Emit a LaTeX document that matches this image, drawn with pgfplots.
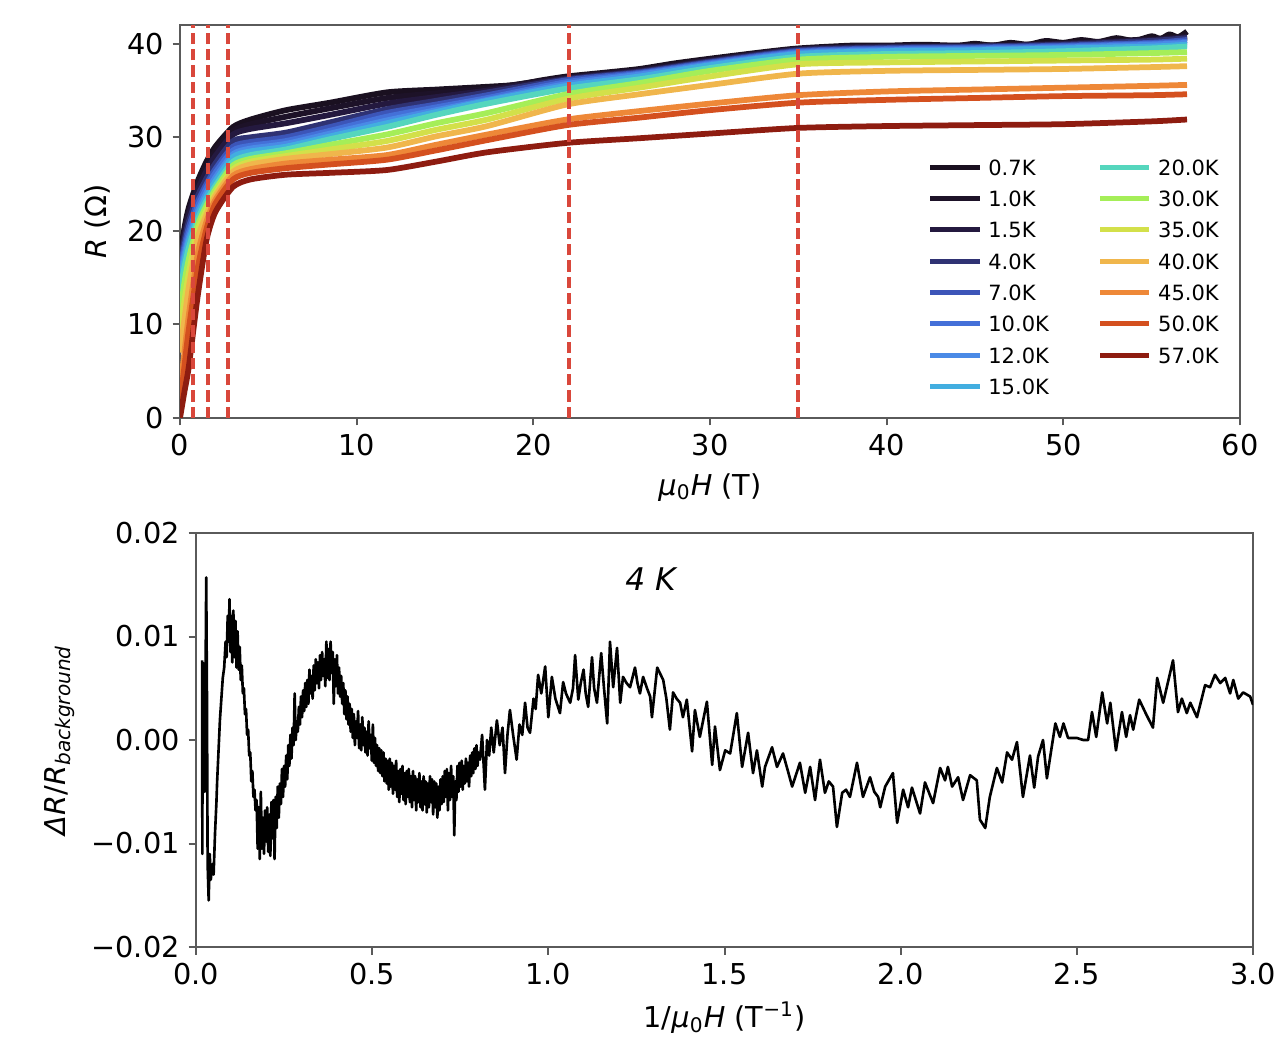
\documentclass[border=0pt]{standalone}
\usepackage{fontspec}
\setmainfont{DejaVu Sans}
\usepackage{pgfplots}
\pgfplotsset{compat=1.18}
\usepackage{pgfplotstable}
\definecolor{c07}{RGB}{26,16,32}
\definecolor{c10}{RGB}{29,18,40}
\definecolor{c15}{RGB}{36,25,63}
\definecolor{c40}{RGB}{47,50,115}
\definecolor{c70}{RGB}{60,85,184}
\definecolor{c100}{RGB}{68,112,216}
\definecolor{c120}{RGB}{74,138,230}
\definecolor{c150}{RGB}{66,174,224}
\definecolor{c200}{RGB}{85,214,189}
\definecolor{c300}{RGB}{165,238,88}
\definecolor{c350}{RGB}{211,224,74}
\definecolor{c400}{RGB}{240,182,76}
\definecolor{c450}{RGB}{238,136,56}
\definecolor{c500}{RGB}{212,80,31}
\definecolor{c570}{RGB}{142,28,16}
\definecolor{vred}{RGB}{217,71,59}
\definecolor{axgray}{RGB}{90,90,90}

\pgfplotstableread{
H    T07  T10  T15  T40  T70  T100 T120 T150 T200 T300 T350 T400 T450 T500 T570
0    17.2 17.0 16.8 16.5 16.0 15.5 15.0 14.5 13.5 11.0 9.0  7.0  3.0  1.5  0.0
0.25 20.3 20.0 19.6 19.0 18.4 17.9 17.4 16.9 16.1 14.5 12.5 10.5 7.0  5.5  2.8
0.5  22.5 22.1 21.7 21.0 20.4 19.8 19.3 18.9 18.2 17.0 15.5 14.0 11.0 9.5  5.5
1    25.3 24.9 24.4 23.7 23.1 22.6 22.1 21.7 21.2 20.6 20.0 19.2 17.5 16.0 13.0
1.5  27.4 26.9 26.4 25.6 25.0 24.6 24.1 23.7 23.2 22.7 22.2 21.7 21.0 20.2 19.0
2    29.0 28.5 28.0 27.2 26.6 26.2 25.7 25.3 24.8 24.4 24.0 23.7 23.3 22.9 22.0
3    31.1 30.7 30.3 29.6 29.0 28.6 28.2 27.9 27.4 27.0 26.6 26.3 25.9 25.5 24.7
4    31.9 31.4 30.9 30.0 29.5 29.1 28.8 28.5 28.1 27.7 27.4 27.1 26.6 26.2 25.5
6    32.9 32.2 31.5 30.5 30.0 29.6 29.3 29.0 28.7 28.3 28.0 27.7 27.2 26.7 26.0
8.5  33.7 33.1 32.4 31.6 31.1 30.7 30.4 30.1 29.8 29.2 28.7 28.2 27.6 27.1 26.2
11.7 34.8 34.2 33.6 33.0 32.6 32.2 31.8 31.5 31.1 30.3 29.6 28.9 28.1 27.6 26.5
14.5 35.1 34.7 34.3 33.9 33.5 33.2 32.9 32.7 32.4 31.5 30.8 30.1 29.2 28.6 27.4
17.4 35.4 35.2 35.0 34.8 34.5 34.2 34.0 33.9 33.6 32.6 31.9 31.2 30.3 29.7 28.4
21.9 36.5 36.4 36.3 36.2 36.1 35.9 35.7 35.5 35.2 34.6 34.1 33.5 31.9 31.3 29.4
26   37.3 37.2 37.1 37.0 36.9 36.8 36.7 36.5 36.2 35.8 35.3 34.6 32.8 32.1 29.9
30   38.4 38.3 38.2 38.1 38.0 37.9 37.8 37.7 37.4 37.1 36.5 35.6 33.6 32.9 30.4
35   39.5 39.4 39.4 39.3 39.2 39.1 39.0 38.9 38.6 38.3 37.8 36.8 34.5 33.7 31.0
40   39.8 39.7 39.7 39.6 39.5 39.4 39.3 39.2 38.9 38.6 38.0 37.1 34.9 34.0 31.2
45   39.8 39.8 39.7 39.7 39.6 39.5 39.4 39.3 39.0 38.7 38.1 37.2 35.1 34.2 31.3
50   40.1 40.0 40.0 39.9 39.8 39.7 39.6 39.5 39.2 38.8 38.2 37.3 35.3 34.4 31.4
55   40.6 40.5 40.4 40.3 40.1 40.0 39.9 39.7 39.5 39.0 38.3 37.5 35.5 34.5 31.7
57   41.0 40.8 40.7 40.6 40.4 40.2 40.1 39.9 39.7 39.1 38.4 37.6 35.6 34.6 31.9
}\rtable

\pgfplotsset{
  myaxis/.style={
    scale only axis,
    anchor=south west,
    axis line style={axgray, line width=0.8pt},
    every tick/.style={axgray, line width=0.8pt},
    tick align=outside,
    tick pos=left,
    major tick length=3pt,
    tick label style={font=\fontsize{11.5}{13}\selectfont, black},
    label style={font=\fontsize{11.5}{13}\selectfont},
    /pgf/number format/assume math mode=true,
    scaled ticks=false,
    clip=true,
  },
  rline/.style={line width=2.3pt, line join=round, smooth, tension=0.4, forget plot},
}

\begin{document}
\begin{tikzpicture}
\path[use as bounding box] (0,0) rectangle (510.4pt,415.2pt);

\begin{axis}[myaxis,
  at={(72pt,248pt)}, width=424pt, height=157.2pt,
  xmin=0, xmax=60, ymin=0, ymax=42,
  xtick={0,10,20,30,40,50,60}, xticklabels={0,10,20,30,40,50,60},
  ytick={0,10,20,30,40}, yticklabels={0,10,20,30,40},
  xlabel={\textit{μ}\textsubscript{0}\textit{H} (T)},
  ylabel={\textit{R} (Ω)},
  legend style={at={(axis description cs:0.698,0.675)}, anchor=north west,
    draw=none, fill=none, font=\fontsize{8.4}{9}\selectfont,
    nodes={inner sep=0.5pt, text depth=0pt},
    row sep=5.3pt,
    /tikz/every even column/.append style={column sep=19pt}},
  legend columns=2,
  legend cell align=left,
  legend image code/.code={\draw[#1, line width=2pt] (0pt,0pt) -- (19.7pt,0pt); \path (22.5pt,0pt);},
]
\addplot[rline, c07] coordinates {(0,17.2)(0.25,20.3)(0.5,22.5)(1,25.3)(1.5,27.4)(2,29.0)(3,31.1)(4,31.9)(6,32.9)(8.5,33.7)(11.7,34.8)(14.5,35.1)(17.4,35.4)(19,35.6)(20.5,36.1)(21.9,36.5)(24,36.9)(26,37.3)(28,37.9)(30,38.4)(33,39.1)(35,39.5)(38,39.8)(40,39.8)(42,39.9)(44,39.8)(45,40.0)(46,39.8)(47,40.1)(48,39.9)(49,40.3)(50,40.1)(51,40.4)(52,40.2)(53,40.6)(54,40.3)(55,40.8)(55.5,40.5)(56,41.0)(56.5,40.7)(57,41.3)};
\addplot[rline, c10] table[x=H, y=T10] {\rtable};
\addplot[rline, c15] table[x=H, y=T15] {\rtable};
\addplot[rline, c40] table[x=H, y=T40] {\rtable};
\addplot[rline, c70] table[x=H, y=T70] {\rtable};
\addplot[rline, c100] table[x=H, y=T100] {\rtable};
\addplot[rline, c120] table[x=H, y=T120] {\rtable};
\addplot[rline, c150] table[x=H, y=T150] {\rtable};
\addplot[rline, c200] table[x=H, y=T200] {\rtable};
\addplot[rline, c300] table[x=H, y=T300] {\rtable};
\addplot[rline, c350] table[x=H, y=T350] {\rtable};
\addplot[rline, c400] table[x=H, y=T400] {\rtable};
\addplot[rline, c450] table[x=H, y=T450] {\rtable};
\addplot[rline, c500] table[x=H, y=T500] {\rtable};
\addplot[rline, c570] table[x=H, y=T570] {\rtable};

\addplot[vred, line width=1.6pt, dash pattern=on 4.5pt off 2pt, forget plot] coordinates {(0.75,0)(0.75,42)};
\addplot[vred, line width=1.6pt, dash pattern=on 4.5pt off 2pt, forget plot] coordinates {(1.6,0)(1.6,42)};
\addplot[vred, line width=1.6pt, dash pattern=on 4.5pt off 2pt, forget plot] coordinates {(2.7,0)(2.7,42)};
\addplot[vred, line width=1.6pt, dash pattern=on 4.5pt off 2pt, forget plot] coordinates {(22,0)(22,42)};
\addplot[vred, line width=1.6pt, dash pattern=on 4.5pt off 2pt, forget plot] coordinates {(35,0)(35,42)};

\addlegendimage{c07}\addlegendentry{0.7K}
\addlegendimage{c200}\addlegendentry{20.0K}
\addlegendimage{c10}\addlegendentry{1.0K}
\addlegendimage{c300}\addlegendentry{30.0K}
\addlegendimage{c15}\addlegendentry{1.5K}
\addlegendimage{c350}\addlegendentry{35.0K}
\addlegendimage{c40}\addlegendentry{4.0K}
\addlegendimage{c400}\addlegendentry{40.0K}
\addlegendimage{c70}\addlegendentry{7.0K}
\addlegendimage{c450}\addlegendentry{45.0K}
\addlegendimage{c100}\addlegendentry{10.0K}
\addlegendimage{c500}\addlegendentry{50.0K}
\addlegendimage{c120}\addlegendentry{12.0K}
\addlegendimage{c570}\addlegendentry{57.0K}
\addlegendimage{c150}\addlegendentry{15.0K}
\end{axis}

\begin{axis}[myaxis,
  at={(78.4pt,36.4pt)}, width=422.8pt, height=165.6pt,
  xmin=0, xmax=3, ymin=-0.02, ymax=0.02,
  xtick={0,0.5,1,1.5,2,2.5,3}, xticklabels={0.0,0.5,1.0,1.5,2.0,2.5,3.0},
  ytick={-0.02,-0.01,0,0.01,0.02}, yticklabels={−0.02,−0.01,0.00,0.01,0.02},
  xlabel={1/\textit{μ}\textsubscript{0}\textit{H} (T\textsuperscript{−1})},
  ylabel={\textit{ΔR}/\textit{R}\textsubscript{\textit{background}}},
]
\addplot[black, line width=1.05pt, line join=round] coordinates {
(0.0175,0.0077)(0.0180,-0.0110)(0.0190,0.0075)(0.0220,0.0040)(0.0250,-0.0050)(0.0290,0.0157)(0.0310,0.0050)(0.0330,-0.0120)(0.0360,-0.0155)(0.0390,-0.0110)(0.0420,-0.0135)(0.0460,-0.0120)(0.0500,-0.0130)(0.0540,-0.0090)(0.0580,-0.0060)(0.0600,-0.0040)
(0.064,-0.001)(0.068,0.002)(0.072,0.004)(0.076,0.006)(0.08,0.007)(0.084,0.0095)(0.087,0.008)(0.09,0.012)(0.093,0.0095)(0.095,0.0136)(0.098,0.0085)(0.1,0.012)(0.103,0.0075)(0.106,0.0125)(0.109,0.008)(0.112,0.0115)(0.115,0.007)(0.118,0.0105)(0.121,0.0068)(0.124,0.009)(0.127,0.0058)(0.13,0.0072)(0.133,0.0045)(0.136,0.005)(0.139,0.0025)(0.142,0.003)(0.145,0.0005)(0.148,0.001)(0.151,-0.0015)(0.154,-0.0012)(0.157,-0.004)(0.16,-0.003)(0.163,-0.0055)(0.166,-0.0048)(0.169,-0.0068)(0.172,-0.0058)(0.175,-0.0105)(0.178,-0.0065)(0.181,-0.0115)(0.184,-0.005)(0.187,-0.0105)(0.19,-0.0075)(0.193,-0.011)(0.196,-0.0068)(0.199,-0.0098)(0.202,-0.0065)(0.205,-0.0108)(0.208,-0.0072)(0.211,-0.0112)(0.214,-0.006)(0.217,-0.0095)(0.22,-0.0058)(0.223,-0.0115)(0.226,-0.0055)(0.229,-0.0085)(0.232,-0.0045)(0.235,-0.0075)(0.238,-0.0042)(0.241,-0.0062)(0.244,-0.0028)(0.247,-0.0055)(0.25,-0.0025)(0.253,-0.0045)(0.256,-0.0015)(0.259,-0.0038)(0.262,-0.0005)(0.265,-0.0025)(0.268,0.0005)(0.271,-0.0018)(0.274,0.0012)(0.277,-0.0005)(0.28,0.0045)(0.283,0.0)(0.286,0.0018)(0.289,0.0008)(0.292,0.0032)(0.295,0.0015)(0.298,0.0042)(0.301,0.0022)(0.304,0.0048)(0.307,0.0028)(0.31,0.0055)(0.313,0.0032)(0.316,0.0058)(0.319,0.0035)(0.322,0.0068)(0.325,0.0045)(0.328,0.0062)(0.331,0.004)(0.334,0.0072)(0.337,0.0048)(0.34,0.0078)(0.343,0.0055)(0.346,0.0075)(0.349,0.005)(0.352,0.0082)(0.355,0.0058)(0.358,0.0085)(0.361,0.0062)(0.364,0.0078)(0.367,0.0052)(0.37,0.0095)(0.373,0.006)(0.376,0.0088)(0.379,0.0058)(0.382,0.0095)(0.385,0.0065)(0.388,0.0085)(0.391,0.0035)(0.394,0.0078)(0.397,0.0052)(0.4,0.0082)(0.403,0.0045)(0.406,0.007)(0.409,0.0042)(0.412,0.0062)(0.415,0.0035)(0.418,0.0055)(0.421,0.0025)(0.424,0.0048)(0.427,0.002)(0.43,0.0042)(0.433,0.0015)(0.436,0.0035)(0.439,0.0008)(0.442,0.003)(0.445,0.0002)(0.448,0.0025)(0.451,-0.0005)(0.454,0.0018)(0.457,0.0002)(0.46,0.0028)(0.463,-0.0008)(0.466,0.0015)(0.469,-0.001)(0.472,0.0022)(0.475,-0.0005)(0.478,0.0012)(0.481,-0.0012)(0.484,0.0008)(0.487,-0.0015)(0.49,0.0018)(0.493,-0.0008)(0.496,0.0005)(0.499,-0.002)(0.502,0.0015)(0.505,-0.0022)(0.508,0.0002)(0.511,-0.0025)(0.514,-0.0005)(0.517,-0.003)(0.52,-0.0008)(0.523,-0.0032)(0.526,-0.001)(0.529,-0.0035)(0.532,-0.0012)(0.535,-0.004)(0.538,-0.0018)(0.541,-0.0042)(0.544,-0.002)(0.547,-0.0048)(0.55,-0.0018)(0.553,-0.0045)(0.556,-0.0022)(0.559,-0.0052)(0.562,-0.0025)(0.565,-0.0048)(0.568,-0.002)(0.571,-0.0055)(0.574,-0.003)(0.577,-0.006)(0.58,-0.0028)(0.583,-0.0052)(0.586,-0.0025)(0.589,-0.0058)(0.592,-0.0032)(0.595,-0.0062)(0.598,-0.003)(0.601,-0.0055)(0.604,-0.0028)(0.607,-0.006)(0.61,-0.0035)(0.613,-0.0065)(0.616,-0.003)(0.619,-0.0058)(0.622,-0.0035)(0.625,-0.0068)(0.628,-0.0038)(0.631,-0.006)(0.634,-0.0032)(0.637,-0.0065)(0.64,-0.004)(0.643,-0.0068)(0.646,-0.0035)(0.649,-0.0062)(0.652,-0.004)(0.655,-0.007)(0.658,-0.0042)(0.661,-0.0065)(0.664,-0.0035)(0.667,-0.006)(0.67,-0.0038)(0.673,-0.0072)(0.676,-0.004)(0.679,-0.0065)(0.682,-0.0042)(0.685,-0.0075)(0.688,-0.0045)(0.691,-0.0068)(0.694,-0.0038)(0.697,-0.0062)(0.7,-0.0035)(0.703,-0.006)(0.706,-0.003)(0.709,-0.0055)(0.712,-0.0028)(0.715,-0.0068)(0.718,-0.0032)(0.721,-0.0058)(0.724,-0.0025)(0.727,-0.0055)(0.73,-0.0035)(0.733,-0.0092)(0.736,-0.004)(0.739,-0.0058)(0.742,-0.0025)(0.745,-0.005)(0.748,-0.0022)(0.751,-0.0045)(0.754,-0.002)(0.757,-0.0048)(0.76,-0.0025)(0.763,-0.0042)(0.766,-0.0018)(0.769,-0.004)(0.772,-0.0022)(0.775,-0.0045)(0.778,-0.0015)(0.781,-0.0035)(0.784,-0.0012)(0.787,-0.0032)(0.79,-0.0008)(0.793,-0.0028)(0.796,-0.0005)(0.799,-0.0025)(0.802,-0.0012)
(0.806,-0.0019)(0.812,0.0005)(0.820,-0.0048)(0.826,0.0000)(0.832,-0.0015)(0.838,0.0012)(0.845,-0.0012)(0.854,0.0019)(0.862,-0.0005)(0.870,0.0012)(0.877,-0.0032)(0.884,0.0005)(0.891,0.0029)(0.900,0.0005)(0.910,-0.0019)(0.918,0.0015)(0.926,0.0005)(0.934,0.0036)(0.941,0.0012)(0.948,0.0007)(0.958,0.0040)(0.964,0.0030)(0.971,0.0063)(0.980,0.0045)(0.991,0.0071)(1.000,0.0022)(1.010,0.0061)(1.020,0.0040)(1.033,0.0026)(1.042,0.0056)(1.050,0.0045)(1.062,0.0036)(1.070,0.0050)(1.076,0.0082)(1.085,0.0039)(1.092,0.0055)(1.100,0.0068)(1.106,0.0045)(1.113,0.0032)(1.124,0.0080)(1.130,0.0050)(1.138,0.0036)(1.150,0.0084)(1.158,0.0050)(1.167,0.0016)(1.175,0.0095)(1.184,0.0051)(1.195,0.0089)(1.204,0.0036)(1.212,0.0061)(1.222,0.0055)(1.232,0.0051)(1.246,0.0070)(1.253,0.0055)(1.260,0.0045)(1.269,0.0061)(1.280,0.0050)(1.289,0.0042)(1.294,0.0022)(1.309,0.0070)(1.326,0.0058)(1.335,0.0040)(1.345,0.0010)(1.354,0.0046)(1.364,0.0040)(1.374,0.0036)(1.382,0.0022)(1.393,0.0039)(1.408,-0.0011)(1.416,0.0029)(1.430,0.0003)(1.440,0.0020)(1.450,0.0037)(1.465,-0.0024)(1.473,0.0013)(1.487,-0.0029)(1.502,-0.0010)(1.516,-0.0013)(1.535,0.0026)(1.550,-0.0026)(1.567,0.0007)(1.581,-0.0032)(1.592,-0.0010)(1.607,-0.0045)(1.615,-0.0026)(1.635,-0.0007)(1.649,-0.0026)(1.666,-0.0013)(1.680,-0.0030)(1.692,-0.0045)(1.714,-0.0022)(1.729,-0.0051)(1.743,-0.0026)(1.757,-0.0058)(1.771,-0.0019)(1.785,-0.0051)(1.796,-0.0040)(1.808,-0.0045)(1.819,-0.0084)(1.834,-0.0051)(1.845,-0.0048)(1.856,-0.0055)(1.876,-0.0022)(1.893,-0.0055)(1.913,-0.0036)(1.925,-0.0050)(1.936,-0.0055)
(1.942,-0.0065)(1.956,-0.0045)(1.978,-0.0032)(1.990,-0.0080)(2.007,-0.0048)(2.021,-0.0065)(2.032,-0.0046)(2.055,-0.0071)(2.069,-0.0041)(2.092,-0.0061)(2.112,-0.0027)(2.126,-0.0039)(2.134,-0.0026)(2.146,-0.0045)(2.163,-0.0036)(2.177,-0.0058)(2.197,-0.0034)(2.216,-0.0039)(2.225,-0.0077)(2.240,-0.0085)(2.253,-0.0055)(2.273,-0.0027)(2.288,-0.0041)(2.302,-0.0012)(2.316,-0.0019)(2.330,-0.0002)(2.347,-0.0055)(2.367,-0.0015)(2.379,-0.0046)(2.390,-0.0016)(2.404,0.0000)(2.415,-0.0037)(2.439,0.0016)(2.452,0.0003)(2.462,0.0016)(2.475,0.0002)(2.500,0.0002)(2.518,0.0000)(2.532,0.0000)(2.543,0.0027)(2.555,0.0003)(2.572,0.0046)(2.586,0.0016)(2.595,0.0036)(2.611,-0.0010)(2.628,0.0027)(2.640,0.0003)(2.651,0.0024)(2.660,0.0010)(2.677,0.0039)(2.698,0.0024)(2.716,0.0012)(2.728,0.0060)(2.745,0.0036)(2.773,0.0077)(2.787,0.0027)(2.798,0.0040)(2.812,0.0026)(2.822,0.0036)(2.841,0.0022)(2.864,0.0053)(2.878,0.0051)(2.892,0.0063)(2.907,0.0055)(2.921,0.0060)(2.935,0.0045)(2.944,0.0058)(2.958,0.0040)(2.972,0.0046)(2.992,0.0042)(3.000,0.0034)
};
\node[font=\fontsize{12.5}{14}\selectfont\itshape] at (axis cs:1.29,0.0155) {4 K};
\end{axis}
\end{tikzpicture}
\end{document}
